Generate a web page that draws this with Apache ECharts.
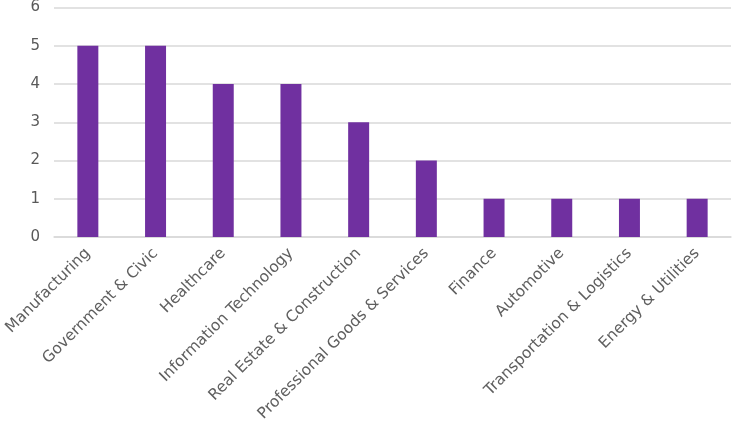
<!DOCTYPE html>
<html lang="en">
<head>
    <meta charset="UTF-8">
    <title>Industries</title>
    <script type="text/javascript" src="https://cdn.jsdelivr.net/npm/echarts@6/dist/echarts.min.js"></script>
    <style>
        html, body { margin: 0; padding: 0; background: #fff; }
        #bar { width: 732px; height: 430px; }
    </style>
</head>
<body>
<div id="bar"></div>
<script type="text/javascript">
    var categories = ['Manufacturing', 'Government & Civic', 'Healthcare', 'Information Technology',
        'Real Estate & Construction', 'Professional Goods & Services', 'Finance', 'Automotive',
        'Transportation & Logistics', 'Energy & Utilities'];
    var counts = [5, 5, 4, 4, 3, 2, 1, 1, 1, 1];
    var yTicks = [0, 1, 2, 3, 4, 5, 6];

    var bar = echarts.init(document.getElementById('bar'));
    // 柱状图配置
    var option = {
        animation: false,
        grid: { left: 54, right: 1, top: 6, bottom: 193, containLabel: false },
        xAxis: {
            type: 'category',
            data: categories,
            axisLine: { lineStyle: { color: '#d9d9d9', width: 1.5 } },
            axisTick: { show: false },
            axisLabel: {
                rotate: 45,
                interval: 0,
                margin: 14,
                color: '#5f5f5f',
                fontFamily: 'DejaVu Sans',
                fontSize: 15.5
            }
        },
        yAxis: {
            type: 'value',
            min: yTicks[0],
            max: yTicks[yTicks.length - 1],
            interval: 1,
            axisLine: { show: false },
            axisTick: { show: false },
            splitLine: { lineStyle: { color: '#d9d9d9', width: 1.5 } },
            axisLabel: {
                margin: 14,
                color: '#595959',
                fontFamily: 'DejaVu Sans',
                fontSize: 15
            }
        },
        series: [{
            name: 'Count',
            type: 'bar',
            data: counts,
            barWidth: '31%',
            itemStyle: { color: '#7030a0' }
        }]
    };
    bar.setOption(option);
</script>
</body>
</html>
